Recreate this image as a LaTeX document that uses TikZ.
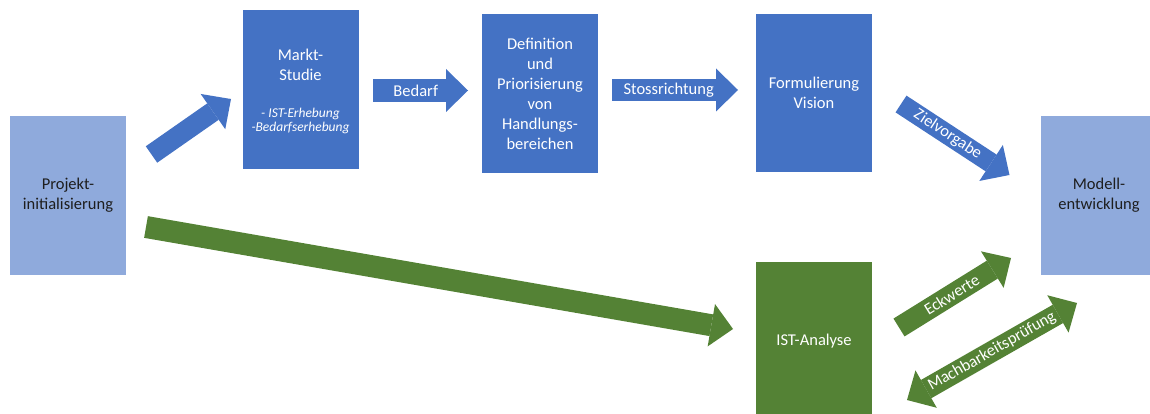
\documentclass[tikz,border=0pt]{standalone}
\usepackage{fontspec}
\setmainfont{Carlito}
\usetikzlibrary{arrows.meta}
\definecolor{cblue}{HTML}{4472C4}
\definecolor{clight}{HTML}{8FAADC}
\definecolor{cgreen}{HTML}{548235}
\definecolor{cdark}{HTML}{1E1E1E}
\begin{document}
\begin{tikzpicture}[x=1pt,y=-1pt,
  box/.style={rectangle, inner sep=0pt, minimum width=116pt, minimum height=158pt, align=center, font=\fontsize{16.5}{20}\selectfont},
  darkbox/.style={box, fill=cblue, text=white},
  lightbox/.style={box, fill=clight, text=cdark},
  greenbox/.style={box, fill=cgreen, text=white},
  blockarrow/.style={line width=21pt, -{Triangle[length=22pt,width=43pt,line width=0pt]}},
  twoway/.style={line width=21pt, {Triangle[length=22pt,width=43pt,line width=0pt]}-{Triangle[length=22pt,width=43pt,line width=0pt]}},
  lbl/.style={sloped, text=white, inner sep=0pt, font=\fontsize{16.5}{18}\selectfont}
]
\useasboundingbox (0,0) rectangle (1150,414);

% boxes
\node[lightbox] (proj) at (68,195.5) {Projekt-\\initialisierung};
\node[darkbox, minimum height=159pt] (markt) at (300.5,89.5) {%
  \begin{tabular}{@{}c@{}}\rule{0pt}{20pt}Markt-\\Studie\\[17pt]
  {\fontsize{13.5}{14}\selectfont\itshape - IST-Erhebung}\\[-6pt]
  {\fontsize{13.5}{14}\selectfont\itshape -Bedarfserhebung}\end{tabular}};
\node[darkbox, minimum height=159pt] (def) at (540,93.5) {Definition\\und\\Priorisierung\\von\\Handlungs-\\bereichen};
\node[darkbox] (vision) at (814,93) {Formulierung\\Vision};
\node[lightbox] (modell) at (1099,195.5) {Modell-\\entwicklung};
\node[greenbox] (ist) at (814,341) {IST-Analyse};

% arrow end points
\coordinate (a1s) at (151.5,154.5); \coordinate (a1e) at (231,99);
\coordinate (bs) at (373,90.5);     \coordinate (be) at (468,90.5);
\coordinate (ss) at (612,90);       \coordinate (se) at (738,90);
\coordinate (zs) at (901,104);      \coordinate (ze) at (1009.5,175);
\coordinate (gs) at (146,227);      \coordinate (ge) at (733,329);
\coordinate (es) at (899,327.5);    \coordinate (ee) at (1011,258);
\coordinate (ms) at (907,400);      \coordinate (me) at (1077,303);

% arrows
\draw[blockarrow, cblue, line width=20pt] (a1s) -- (a1e);
\draw[blockarrow, cblue, line width=23pt] (bs) -- (be) node[lbl, pos=0.45] {Bedarf};
\draw[blockarrow, cblue, line width=22pt] (ss) -- (se) node[lbl, pos=0.45] {Stossrichtung};
\draw[blockarrow, cblue, line width=20pt] (zs) -- (ze) node[lbl, pos=0.43] {Zielvorgabe};
\draw[blockarrow, cgreen, line width=22pt] (gs) -- (ge);
\draw[blockarrow, cgreen, line width=21pt] (es) -- (ee) node[lbl, pos=0.47] {Eckwerte};
\draw[twoway, cgreen, line width=21pt] (ms) -- (me) node[lbl, pos=0.5] {Machbarkeitsprüfung};
\end{tikzpicture}
\end{document}
